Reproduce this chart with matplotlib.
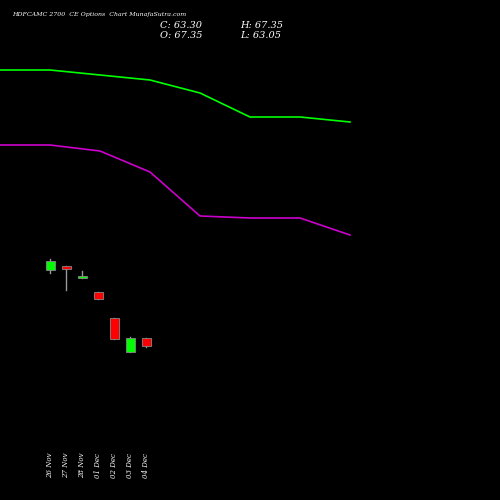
import matplotlib.pyplot as plt
from matplotlib.patches import Rectangle

dates = ["26 Nov", "27 Nov", "28 Nov", "01 Dec", "02 Dec", "03 Dec", "04 Dec"]
opens = [101.35, 103.35, 97.35, 90.35, 77.35, 60.35, 67.35]
closes = [105.85, 101.85, 97.85, 86.85, 66.85, 67.35, 63.30]
highs = [106.85, 103.35, 100.85, 90.35, 77.35, 67.85, 67.35]
lows = [99.85, 91.35, 97.35, 86.85, 66.85, 60.35, 63.05]

line_x = [0, 50, 100, 150, 200, 250, 300, 350]
green_line = [201.35, 201.35, 198.85, 196.35, 189.85, 177.85, 177.85, 175.35]
purple_line = [163.85, 163.85, 160.85, 150.35, 128.35, 127.35, 127.35, 118.85]

fig = plt.figure(figsize=(5, 5), dpi=100, facecolor="black")
ax = fig.add_axes([0, 0, 1, 1], facecolor="black")
ax.set_xlim(0, 500)
ax.set_ylim(-13.65, 236.35)
ax.axis("off")

ax.plot(line_x, green_line, color="#00ff00", lw=1.2)
ax.plot(line_x, purple_line, color="#cc00cc", lw=1.2)

for i in range(len(dates)):
    x = 50 + 16 * i
    o, c = opens[i], closes[i]
    col = "#00ff00" if c >= o else "#ff0000"
    ax.plot([x, x], [lows[i], highs[i]], color="#999999", lw=1)
    h = max(abs(c - o), 1.0)
    ax.add_patch(Rectangle((x - 4.5, min(o, c)), 9, h, facecolor=col,
                           edgecolor="#888888", lw=0.6, zorder=3))
    ax.text(x, 10, dates[i], rotation=90, color="white", fontsize=5,
            family="DejaVu Serif", style="italic", ha="center", va="top")

fig.text(0.024, 0.968, "HDFCAMC 2700  CE Options  Chart MunafaSutra.com", color="white",
         fontsize=4.5, family="DejaVu Serif", style="italic")
fig.text(0.32, 0.945, "C: 63.30", color="white", fontsize=7, family="DejaVu Serif", style="italic")
fig.text(0.32, 0.925, "O: 67.35", color="white", fontsize=7, family="DejaVu Serif", style="italic")
fig.text(0.48, 0.945, "H: 67.35", color="white", fontsize=7, family="DejaVu Serif", style="italic")
fig.text(0.48, 0.925, "L: 63.05", color="white", fontsize=7, family="DejaVu Serif", style="italic")

fig.savefig("out.png", facecolor="black")
